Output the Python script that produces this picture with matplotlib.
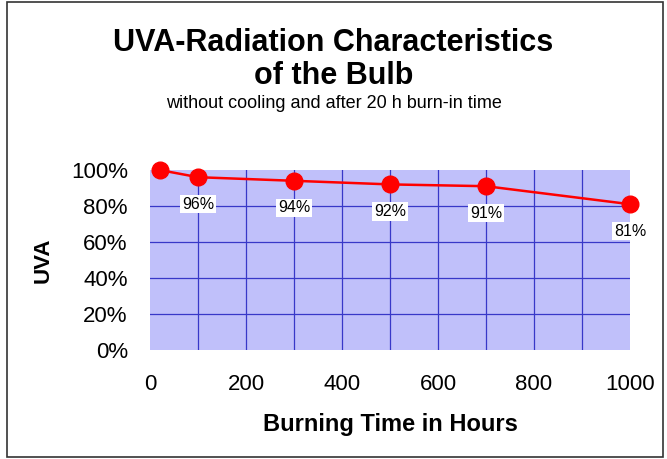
import matplotlib
matplotlib.use("Agg")
import matplotlib.pyplot as plt
from matplotlib.patches import Rectangle
from matplotlib.ticker import FuncFormatter
import numpy as np

hours = [20, 100, 300, 500, 700, 1000]
uva = [100, 96, 94, 92, 91, 81]
labels = ["", "96%", "94%", "92%", "91%", "81%"]
x_ticks = [0, 200, 400, 600, 800, 1000]
y_ticks = [0, 20, 40, 60, 80, 100]
x_grid = [100, 200, 300, 400, 500, 600, 700, 800, 900]
y_grid = [20, 40, 60, 80]

plt.rcParams['font.family'] = ['Liberation Sans', 'DejaVu Sans']

fig = plt.figure(figsize=(6.67, 4.59), dpi=100)
ax = fig.add_axes([150/667, 1-350/459, 480/667, 180/459])
ax.set_facecolor('#c0c0fa')
ax.set_xlim(0, 1000)
ax.set_ylim(0, 100)
for s in ax.spines.values():
    s.set_visible(False)

ax.set_xticks(x_ticks)
ax.set_yticks(y_ticks)
ax.set_xticks(x_grid, minor=True)
ax.set_yticks(y_grid, minor=True)
ax.xaxis.remove_overlapping_locs = False
ax.yaxis.remove_overlapping_locs = False
ax.yaxis.set_major_formatter(FuncFormatter(lambda v, p: f"{int(v)}%"))
ax.tick_params(which='both', length=0)
ax.tick_params(axis='x', which='major', labelsize=16, pad=17)
ax.tick_params(axis='y', which='major', labelsize=16, pad=16)
ax.grid(which='minor', color='#3838c8', linewidth=0.9)
ax.grid(which='major', visible=False)
ax.set_axisbelow(True)

ax.plot(hours, uva, color='#ff0000', linewidth=1.8, marker='o', markersize=12,
        markerfacecolor='#ff0000', markeredgecolor='#ff0000', clip_on=False, zorder=3)

for h, v, t in zip(hours, uva, labels):
    if t:
        ax.annotate(t, (h, v), xytext=(0, -19.5), textcoords='offset points',
                    ha='center', va='center', fontsize=11.5,
                    bbox=dict(boxstyle='square,pad=0.1', fc='white', ec='none'),
                    annotation_clip=False, zorder=4)

ax.set_xlabel("Burning Time in Hours", fontsize=17, fontweight='bold', labelpad=13)
ax.set_ylabel("UVA", fontsize=16, fontweight='bold', labelpad=12)

fig.text(0.5, 1-43/459, "UVA-Radiation Characteristics", ha='center', va='center',
         fontsize=22, fontweight='bold')
fig.text(0.5, 1-76/459, "of the Bulb", ha='center', va='center',
         fontsize=22, fontweight='bold')
fig.text(0.5, 1-104/459, "without cooling and after 20 h burn-in time", ha='center',
         va='center', fontsize=13)

fig.patches.append(Rectangle((7/667, 2/459), 656/667, 455/459, transform=fig.transFigure,
                             fill=False, edgecolor='#333333', linewidth=1.2))

fig.savefig("out.png", dpi=100)
